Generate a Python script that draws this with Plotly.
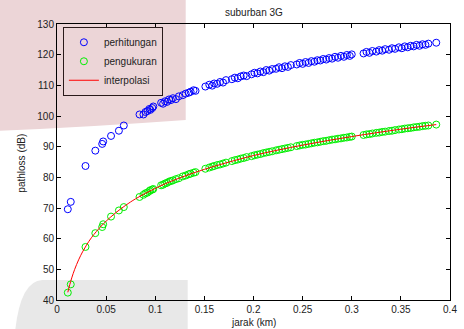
import plotly.graph_objects as go

# ---- data ----
distance_km = [0.011, 0.014, 0.029, 0.039, 0.046, 0.047, 0.055, 0.063, 0.068,
               0.084, 0.088, 0.090, 0.092, 0.094, 0.095, 0.097, 0.098,
               0.106, 0.108, 0.110, 0.112, 0.114, 0.116, 0.118, 0.121, 0.124,
               0.128, 0.131, 0.134, 0.136, 0.139, 0.141,
               0.151, 0.155, 0.158, 0.160, 0.163, 0.166, 0.169, 0.172,
               0.178, 0.181, 0.184, 0.187, 0.190, 0.193,
               0.198, 0.201, 0.204, 0.207, 0.210, 0.213, 0.216, 0.219,
               0.223, 0.226, 0.229, 0.232, 0.235, 0.238,
               0.244, 0.247, 0.250, 0.253, 0.256, 0.259, 0.262, 0.265,
               0.268, 0.271, 0.274, 0.277, 0.280, 0.283, 0.286, 0.289, 0.292, 0.295, 0.298, 0.300,
               0.312, 0.315, 0.318, 0.321, 0.325, 0.328, 0.331, 0.334, 0.338, 0.341, 0.344,
               0.348, 0.351, 0.354, 0.357, 0.360, 0.363, 0.366, 0.369, 0.372, 0.375, 0.378, 0.386]

perhitungan_db = [69.6, 72.0, 83.7, 88.7, 90.9, 91.7, 93.5, 95.2, 96.9,
                  100.5, 100.5, 101.3, 101.6, 102.3, 102.0, 102.6, 103.1,
                  104.3, 104.0, 104.8, 104.6, 105.4, 105.2, 105.8, 105.5, 106.4,
                  106.8, 107.3, 107.6, 107.9, 108.4, 108.2,
                  109.6, 110.2, 109.9, 110.6, 110.5, 111.1, 110.9, 111.7,
                  112.0, 112.5, 112.3, 112.9, 113.2, 113.0,
                  113.6, 114.1, 113.9, 114.5, 114.3, 115.0, 114.8, 115.3,
                  115.4, 115.9, 115.6, 116.2, 116.0, 116.6,
                  116.8, 117.3, 117.0, 117.6, 117.3, 117.9, 117.7, 118.2,
                  118.1, 118.6, 118.4, 118.9, 118.7, 119.3, 119.0, 119.6, 119.3, 119.9, 119.6, 120.1,
                  120.4, 120.9, 120.6, 121.2, 121.0, 121.5, 121.3, 121.8, 121.6, 122.1, 121.9,
                  122.4, 122.1, 122.7, 122.4, 122.9, 122.7, 123.2, 122.9, 123.4, 123.2, 123.6, 123.9]

pengukuran_db = [42.4, 45.1, 57.3, 61.8, 63.8, 64.7, 67.2, 69.2, 70.3,
                 73.6, 74.3, 74.8, 75.0, 75.5, 75.8, 76.0, 76.2,
                 77.4, 77.6, 78.0, 78.2, 78.6, 78.8, 79.0, 79.4, 79.7,
                 80.3, 80.6, 81.0, 81.2, 81.5, 81.7,
                 82.8, 83.2, 83.5, 83.7, 84.0, 84.2, 84.5, 84.8,
                 85.3, 85.6, 85.8, 86.1, 86.3, 86.6,
                 86.9, 87.2, 87.4, 87.6, 87.9, 88.1, 88.3, 88.5,
                 88.8, 89.0, 89.2, 89.4, 89.6, 89.8,
                 90.2, 90.4, 90.6, 90.7, 90.9, 91.1, 91.3, 91.4,
                 91.6, 91.8, 91.9, 92.1, 92.3, 92.4, 92.6, 92.7, 92.9, 93.0, 93.2, 93.3,
                 93.8, 94.0, 94.1, 94.3, 94.5, 94.6, 94.8, 94.9, 95.1, 95.2, 95.4,
                 95.6, 95.7, 95.9, 96.0, 96.1, 96.3, 96.4, 96.5, 96.7, 96.8, 96.9, 97.2]

interp_x_km = [0.011, 0.013, 0.015, 0.018, 0.022, 0.026, 0.030, 0.035, 0.040, 0.045,
               0.050, 0.060, 0.070, 0.080, 0.100, 0.120, 0.150, 0.200, 0.250,
               0.300, 0.350, 0.386]
interp_db = [42.5, 45.0, 47.2, 50.0, 53.1, 55.7, 57.9, 60.3, 62.3, 64.1,
             65.7, 68.5, 70.9, 73.0, 76.4, 79.2, 82.6, 87.1, 90.5,
             93.3, 95.7, 97.2]

x_ticks = [0, 0.05, 0.1, 0.15, 0.2, 0.25, 0.3, 0.35, 0.4]
x_tick_text = ["0", "0.05", "0.1", "0.15", "0.2", "0.25", "0.3", "0.35", "0.4"]
y_ticks = [40, 50, 60, 70, 80, 90, 100, 110, 120, 130]

FONT = "Liberation Sans, Arial, sans-serif"

fig = go.Figure()
fig.add_trace(go.Scatter(x=distance_km, y=perhitungan_db, mode="markers", name="perhitungan",
                         marker=dict(symbol="circle-open", size=7, color="#0000FF",
                                     line=dict(width=1, color="#0000FF"))))
fig.add_trace(go.Scatter(x=distance_km, y=pengukuran_db, mode="markers", name="pengukuran",
                         marker=dict(symbol="circle-open", size=7, color="#00EE00",
                                     line=dict(width=1, color="#00EE00"))))
fig.add_trace(go.Scatter(x=interp_x_km, y=interp_db, mode="lines", name="interpolasi",
                         line=dict(color="#FF0000", width=1, shape="spline")))

# scanned-page background artefacts
ml, mt, pw, ph = 57, 24, 400, 276
def px(xp): return (xp - ml) / pw
def py(yp): return (mt + ph - yp) / ph

pink_path = (f"M {px(-5)},{py(-5)} L {px(188)},{py(-5)} L {px(188)},{py(120)} "
             f"Q {px(90)},{py(127)} {px(-5)},{py(131)} Z")
gray_path = (f"M {px(14)},{py(335)} Q {px(19)},{py(281)} {px(42)},{py(280)} "
             f"L {px(190)},{py(280)} L {px(190)},{py(335)} Z")

fig.update_layout(
    width=464, height=329,
    margin=dict(l=ml, r=7, t=mt, b=29),
    paper_bgcolor="white",
    plot_bgcolor="rgba(0,0,0,0)",
    font=dict(family=FONT, size=10, color="#222222"),
    showlegend=True,
    legend=dict(x=0.015, y=0.99, xanchor="left", yanchor="top",
                bgcolor="rgba(0,0,0,0)", bordercolor="#2a1a1a", borderwidth=1,
                font=dict(size=10, color="#222222"), tracegroupgap=0),
    shapes=[
        dict(type="path", path=pink_path, xref="paper", yref="paper", layer="below",
             fillcolor="rgb(236,213,215)", line=dict(width=0)),
        dict(type="path", path=gray_path, xref="paper", yref="paper", layer="below",
             fillcolor="rgb(232,232,232)", line=dict(width=0)),
    ],
    annotations=[
        dict(text="suburban 3G", x=0.5, y=py(12), xref="paper", yref="paper",
             showarrow=False, font=dict(size=10, color="#222222"), xanchor="center", yanchor="middle"),
        dict(text="jarak (km)", x=0.5, y=py(322), xref="paper", yref="paper",
             showarrow=False, font=dict(size=10, color="#222222"), xanchor="center", yanchor="middle"),
        dict(text="pathloss (dB)", x=px(20), y=py(163), xref="paper", yref="paper",
             showarrow=False, textangle=-90, font=dict(size=10, color="#222222"),
             xanchor="center", yanchor="middle"),
    ],
)
fig.update_xaxes(range=[0, 0.4], tickvals=x_ticks, ticktext=x_tick_text,
                 ticklabeloverflow="allow",
                 showgrid=False, zeroline=False, showline=True, linecolor="black", linewidth=1,
                 mirror="ticks", ticks="inside", ticklen=4, tickcolor="black")
fig.update_yaxes(range=[40, 130], tickvals=y_ticks,
                 showgrid=False, zeroline=False, showline=True, linecolor="black", linewidth=1,
                 mirror="ticks", ticks="inside", ticklen=4, tickcolor="black")

fig.write_html("out.html")
